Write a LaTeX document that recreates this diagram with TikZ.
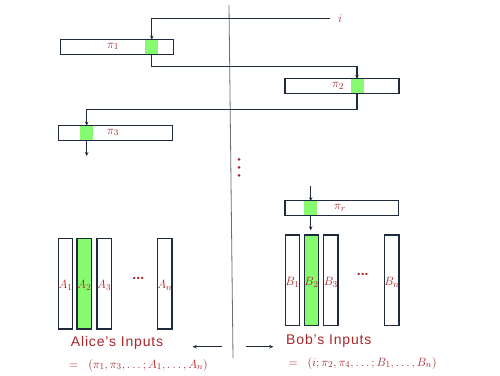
\documentclass[tikz,border=0pt]{standalone}
\usepackage{fontspec}
\setmainfont{Liberation Sans}
\usetikzlibrary{arrows.meta,positioning}
\definecolor{ink}{HTML}{1F2A3C}
\definecolor{lbl}{HTML}{A8262B}
\definecolor{hl}{HTML}{86FB6F}
\definecolor{divider}{HTML}{6B6B70}

\begin{document}
\begin{tikzpicture}[
    x=1pt, y=-1pt,
    perm/.style={rectangle, draw=ink, line width=1.2pt, fill=white,
                 minimum width=#1, minimum height=15pt, inner sep=0pt},
    cell/.style={rectangle, fill=hl, minimum width=13pt,
                 minimum height=13.8pt, inner sep=0pt},
    col/.style={rectangle, draw=ink, line width=1.2pt, fill=#1,
                minimum width=14.5pt, minimum height=90.7pt, inner sep=0pt},
    col/.default=white,
    tag/.style={text=lbl, font=\fontsize{13}{15}\selectfont, inner sep=0pt},
    vdot/.style={circle, fill=lbl, minimum size=3pt, inner sep=0pt},
    hdots/.style={text=lbl, font=\fontsize{14}{16}\selectfont\bfseries, inner sep=0pt},
    flow/.style={draw=ink, line width=1.1pt, -{Stealth[length=4pt,width=3.5pt]}},
    caption/.style={text=lbl, anchor=west, inner sep=0pt,
                    font=\fontsize{14}{16}\selectfont\addfontfeatures{LetterSpace=6}},
    formula/.style={text=lbl, anchor=west, inner sep=0pt,
                    font=\fontsize{12.5}{15}\selectfont}
]
\useasboundingbox (0,0) rectangle (500,375);

% split between the two players
\draw[divider, line width=0.8pt] (229,5) -- (233,358);

% permutation blocks
\node[perm=113pt] (p1) at (116.7,46.7) {};
\node[cell] (g1) at (151.8,46.7) {};
\node[tag] (t1) at (113,46.5) {$\pi_1$};

\node[perm=114pt] (p2) at (342,86.2) {};
\node[cell] (g2) at (357,86.2) {};
\node[tag] (t2) at (338,86) {$\pi_2$};

\node[perm=114pt] (p3) at (115.3,132.7) {};
\node[cell] (g3) at (86.7,132.7) {};
\node[tag] (t3) at (113,132.5) {$\pi_3$};

\node[perm=113.3pt] (pr) at (341.7,208.3) {};
\node[cell] (gr) at (310.7,208.3) {};
\node[tag] (tr) at (340,208) {$\pi_r$};

% chain of lookups
\coordinate (iin) at (330,18.3);
\node[tag] (ilbl) at (340,18.3) {$i$};
\draw[flow] (iin) -| (g1.north);
\draw[flow] (g1.south) -- ++(0,12.5) -| (g2.north);
\draw[flow] (g2.south) -- ++(0,16) -| (g3.north);
\coordinate (out3) at (86.7,156);
\draw[flow] (g3.south) -- (out3);

\foreach \y [count=\k] in {159.3,167.3,175.3}
    \node[vdot] (vd\k) at (239,\y) {};

\coordinate (inr) at (310.7,186);
\draw[flow] (inr) -- (gr.north);

% Alice's columns
\node[col] (a1) at (65.5,283.7) {};
\node[col=hl] (a2) at (84.2,283.7) {};
\node[col] (a3) at (104.2,283.7) {};
\node[col] (an) at (164.8,283.7) {};
\foreach \c/\s in {a1/1, a2/2, a3/3, an/n}
    \node[tag] at ([yshift=-2pt]\c) {$A_\s$};
\node[hdots] (adots) at (138.3,278) {...};

% Bob's columns
\node[col] (b1) at (292.5,280.3) {};
\node[col=hl] (b2) at (311.5,280.3) {};
\node[col] (b3) at (330.8,280.3) {};
\node[col] (bn) at (391.8,280.3) {};
\foreach \c/\s in {b1/1, b2/2, b3/3, bn/n}
    \node[tag] at ([yshift=-2pt]\c) {$B_\s$};
\node[hdots] (bdots) at (362.7,274.5) {...};

\draw[flow, shorten >=4pt] (gr.south) -- (gr.south |- b2.north);

% inputs
\node[caption] (alice) at (70.7,343.3) {Alice's Inputs};
\node[formula] (aform) at (69,365) {$=\;\;(\pi_1,\pi_3,\dots;A_1,\dots,A_n)$};
\node[caption] (bob) at (286,341) {Bob's Inputs};
\node[formula] (bform) at (288.3,363) {$=\;\;(i;\pi_2,\pi_4,\dots;B_1,\dots,B_n)$};

\coordinate (al0) at (221.7,346.7);
\coordinate (al1) at (192.7,346.7);
\draw[flow] (al0) -- (al1);
\coordinate (bo0) at (246,346.7);
\coordinate (bo1) at (273.3,346.7);
\draw[flow] (bo0) -- (bo1);

\end{tikzpicture}
\end{document}
